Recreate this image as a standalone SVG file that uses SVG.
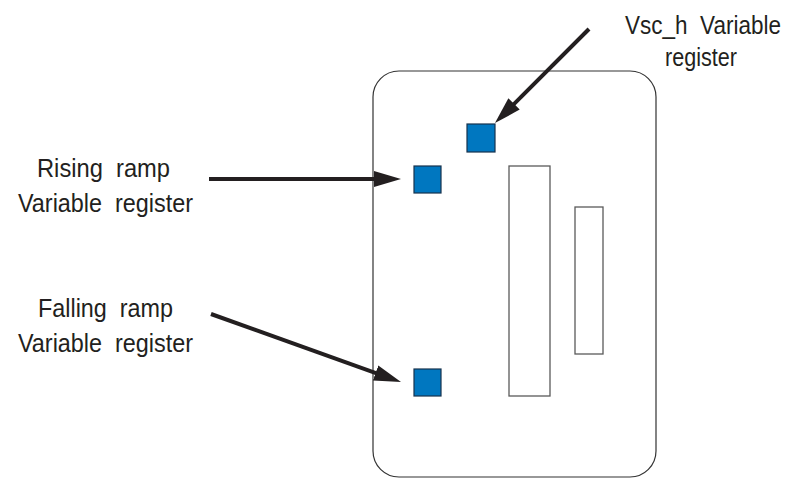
<svg xmlns="http://www.w3.org/2000/svg" width="793" height="481" viewBox="0 0 793 481">
<style>
.lbl{font-family:"Liberation Sans",Arial,sans-serif;font-size:25px;fill:#231f20;text-anchor:middle;white-space:pre}
.reg{fill:#0077c0;stroke:#17324d;stroke-width:1.2}
.blk{fill:#fff;stroke:#5a5a5a;stroke-width:1.3}
.arr{stroke:#231f20;stroke-width:4;fill:none;marker-end:url(#ah)}
</style>
<defs>
<marker id="ah" markerUnits="userSpaceOnUse" markerWidth="28" markerHeight="18" refX="7" refY="8" orient="auto">
<path d="M0,0 L27,8 L0,16 Z" fill="#231f20"/>
</marker>
</defs>
<rect width="793" height="481" fill="#fff"/>
<g id="chip">
<rect x="373" y="71" width="283" height="406" rx="26" ry="26" fill="#fff" stroke="#333" stroke-width="1.2"/>
</g>
<g id="block-tall"><rect class="blk" x="509" y="166" width="41" height="230"/></g>
<g id="block-small"><rect class="blk" x="575" y="207" width="28" height="147"/></g>
<g id="reg-vsch"><rect class="reg" x="467" y="124" width="28" height="28"/></g>
<g id="reg-rising"><rect class="reg" x="414" y="166" width="27" height="27"/></g>
<g id="reg-falling"><rect class="reg" x="414" y="369" width="27" height="27"/></g>
<g id="label-rising">
<text class="lbl" xml:space="preserve" x="103.5" y="177" textLength="133" lengthAdjust="spacingAndGlyphs">Rising  ramp</text>
<text class="lbl" xml:space="preserve" x="105.5" y="212" textLength="175" lengthAdjust="spacingAndGlyphs">Variable  register</text>
</g>
<g id="label-falling">
<text class="lbl" xml:space="preserve" x="105.5" y="317" textLength="135" lengthAdjust="spacingAndGlyphs">Falling  ramp</text>
<text class="lbl" xml:space="preserve" x="105.5" y="352" textLength="175" lengthAdjust="spacingAndGlyphs">Variable  register</text>
</g>
<g id="label-vsch">
<text class="lbl" xml:space="preserve" transform="translate(703 34) scale(0.9 1)" x="0" y="0">Vsc_h  Variable</text>
<text class="lbl" xml:space="preserve" x="701" y="66" textLength="72" lengthAdjust="spacingAndGlyphs">register</text>
</g>
<g id="connectors">
<line class="arr" x1="209" y1="179" x2="381" y2="179"/>
<line class="arr" x1="211" y1="314" x2="382.2" y2="375.3"/>
<line class="arr" x1="589" y1="29" x2="509.1" y2="108.9"/>
</g>
</svg>
